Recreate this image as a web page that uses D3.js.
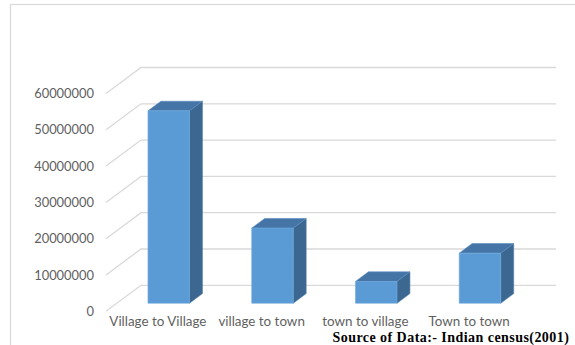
<!DOCTYPE html>
<html>
<head>
<meta charset="utf-8">
<script src="https://cdn.jsdelivr.net/npm/d3@7"></script>
<style>
  html, body { margin: 0; padding: 0; background: #fff; overflow: hidden; }
  svg { display: block; }
</style>
</head>
<body>
<svg id="chart" width="575" height="345"></svg>
<script>
// Migration streams, Census of India 2001
const categories = ["Village to Village", "village to town", "town to village", "Town to town"];
const migrants = [53000000, 20700000, 6000000, 13800000];
const yTicks = [0, 10000000, 20000000, 30000000, 40000000, 50000000, 60000000];
const sourceNote = "Source of Data:- Indian census(2001)";

const svg = d3.select("#chart");

// front plane of the 3-D box
const frontLeft = 106, frontRight = 521;
const yFront0 = 311.3, yFrontTop = 93.5;
// oblique depth vector (full depth of the box)
const depth = { dx: 35, dy: -26 };
// bars sit between these depth fractions
const barDepth0 = 0.31, barDepth1 = 0.68;

const x = d3.scaleBand().domain(categories).range([frontLeft, frontRight]).padding(0);
const y = d3.scaleLinear().domain([0, 60000000]).range([yFront0, yFrontTop]);

const proj = (px, py, f) => [px + f * depth.dx, py + f * depth.dy];

// chart area border
svg.append("rect")
  .attr("x", 10.5).attr("y", 4.5)
  .attr("width", 600).attr("height", 400)
  .attr("fill", "none").attr("stroke", "#d9d9d9").attr("stroke-width", 1.2);

// gridlines: side wall diagonals + back wall horizontals
const grid = svg.append("g").attr("stroke", "#d9d9d9").attr("stroke-width", 1.3).attr("fill", "none");
yTicks.forEach(t => {
  const a = proj(frontLeft, y(t), 0);
  const b = proj(frontLeft, y(t), 1);
  const c = proj(frontRight, y(t), 1);
  grid.append("path").attr("d", d3.line()([a, b, c]));
});

// value labels
svg.append("g")
  .selectAll("text")
  .data(yTicks)
  .join("text")
  .attr("x", 94)
  .attr("y", d => y(d))
  .attr("dy", "0.35em")
  .attr("text-anchor", "end")
  .attr("font-family", "Lato, 'Open Sans', sans-serif")
  .attr("font-size", 12.9)
  .attr("fill", "#5f5f5f")
  .text(d => String(d));

// category labels
svg.append("g")
  .selectAll("text")
  .data(categories)
  .join("text")
  .attr("x", d => x(d) + x.bandwidth() / 2)
  .attr("y", 321.7)
  .attr("dy", "0.35em")
  .attr("text-anchor", "middle")
  .attr("font-family", "Lato, 'Open Sans', sans-serif")
  .attr("font-size", 13.4)
  .attr("fill", "#5f5f5f")
  .text(d => d);

// 3-D columns (gap width 150%)
const bw = x.bandwidth() / 2.5;
const bars = svg.append("g");
categories.forEach((cat, i) => {
  const v = migrants[i];
  const xl = x(cat) + (x.bandwidth() - bw) / 2;
  const xr = xl + bw;
  const FTL = proj(xl, y(v), barDepth0), FTR = proj(xr, y(v), barDepth0);
  const FBL = proj(xl, y(0), barDepth0), FBR = proj(xr, y(0), barDepth0);
  const BTL = proj(xl, y(v), barDepth1), BTR = proj(xr, y(v), barDepth1);
  const BBR = proj(xr, y(0), barDepth1);
  const g = bars.append("g").attr("stroke-width", 0.6).attr("stroke-linejoin", "round");
  // right side
  g.append("path").attr("d", d3.line()([FTR, BTR, BBR, FBR]) + "Z")
    .attr("fill", "#3b6790").attr("stroke", "#4d7ba6");
  // top
  g.append("path").attr("d", d3.line()([FTL, FTR, BTR, BTL]) + "Z")
    .attr("fill", "#4575a6").attr("stroke", "#5a8cc0");
  // front
  g.append("path").attr("d", d3.line()([FTL, FTR, FBR, FBL]) + "Z")
    .attr("fill", "#5b9bd5").attr("stroke", "#6fa9dd");
});

// data source note
svg.append("text")
  .attr("x", 332.5)
  .attr("y", 341.5)
  .attr("font-family", "'Liberation Serif', 'Times New Roman', serif")
  .attr("font-weight", "bold")
  .attr("font-size", 14)
  .attr("letter-spacing", 0.45)
  .attr("fill", "#000")
  .text(sourceNote);
</script>
</body>
</html>
